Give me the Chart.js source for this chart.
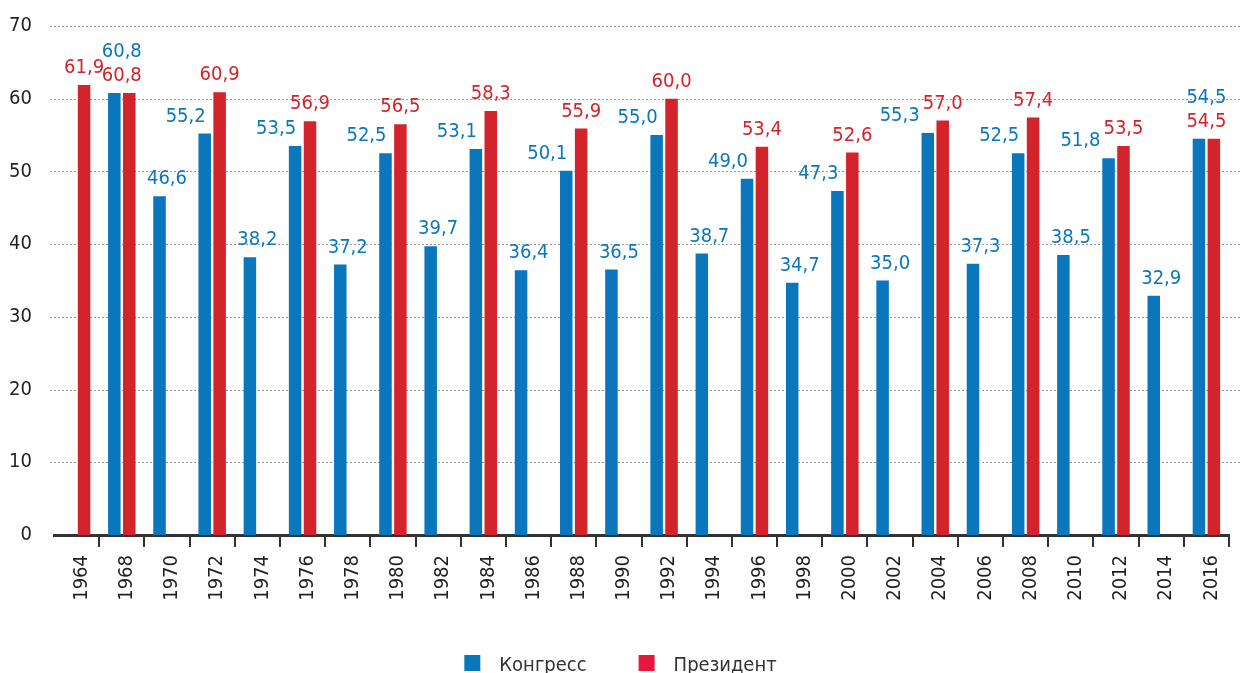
<!DOCTYPE html>
<html>
<head>
<meta charset="utf-8">
<script src="https://cdn.jsdelivr.net/npm/chart.js@4/dist/chart.umd.min.js"></script>
<style>
  html, body { margin: 0; padding: 0; background: #fff; }
  canvas { display: block; }
</style>
</head>
<body>
<canvas id="turnoutChart" width="1241" height="673"></canvas>
<script>
// years on the x axis (1966 is not shown in the source)
const years = ['1964', '1968', '1970', '1972', '1974', '1976', '1978', '1980', '1982', '1984', '1986', '1988', '1990',
  '1992', '1994', '1996', '1998', '2000', '2002', '2004', '2006', '2008', '2010', '2012', '2014', '2016'];

// turnout, %
const congress = [null, 60.8, 46.6, 55.2, 38.2, 53.5, 37.2, 52.5, 39.7, 53.1, 36.4, 50.1, 36.5,
  55.0, 38.7, 49.0, 34.7, 47.3, 35.0, 55.3, 37.3, 52.5, 38.5, 51.8, 32.9, 54.5];
const president = [61.9, 60.8, null, 60.9, null, 56.9, null, 56.5, null, 58.3, null, 55.9, null,
  60.0, null, 53.4, null, 52.6, null, 57.0, null, 57.4, null, 53.5, null, 54.5];

const yTicks = [0, 10, 20, 30, 40, 50, 60, 70];

const FONT = "'DejaVu Sans Condensed', 'Liberation Sans Narrow', 'Arial Narrow', sans-serif";
const BLUE = '#0a77bd';
const RED = '#d3232b';
const LEGEND_RED = '#e5173f';

function fmt(v) {
    return v.toFixed(1).replace('.', ',');
}

// dotted horizontal grid, a bit wider than the plot area
const gridPlugin = {
    id: 'dottedGrid',
    beforeDatasetsDraw(chart) {
        const ctx = chart.ctx;
        const y = chart.scales.y;
        ctx.save();
        ctx.strokeStyle = '#9a9a9a';
        ctx.lineWidth = 1;
        ctx.setLineDash([2, 2]);
        yTicks.forEach(function(t) {
            if (t === 0) return;
            const py = Math.round(y.getPixelForValue(t)) + 0.5;
            ctx.beginPath();
            ctx.moveTo(chart.chartArea.left - 4, py);
            ctx.lineTo(chart.width, py);
            ctx.stroke();
        });
        ctx.restore();
    }
};

// value labels above bars
const labelPlugin = {
    id: 'valueLabels',
    afterDatasetsDraw(chart) {
        const ctx = chart.ctx;
        const m0 = chart.getDatasetMeta(0);
        const m1 = chart.getDatasetMeta(1);
        const xs = chart.scales.x;
        const off = 12;
        ctx.save();
        ctx.font = '20px ' + FONT;
        ctx.textBaseline = 'alphabetic';
        for (let i = 0; i < years.length; i++) {
            const c = congress[i];
            const p = president[i];
            const xc = xs.getPixelForValue(i);
            let redLeft = null, redBase = null;
            if (p != null) {
                const bar = m1.data[i];
                const tx = c === p ? xc : bar.x;
                ctx.fillStyle = RED;
                ctx.textAlign = 'center';
                ctx.fillText(fmt(p), tx, bar.y - off);
                redLeft = tx - ctx.measureText(fmt(p)).width / 2;
                redBase = bar.y - off;
            }
            if (c != null) {
                const bar = m0.data[i];
                ctx.fillStyle = BLUE;
                if (p == null) {
                    ctx.textAlign = 'center';
                    ctx.fillText(fmt(c), xc, bar.y - off);
                } else if (c === p) {
                    ctx.textAlign = 'center';
                    ctx.fillText(fmt(c), xc, redBase - 24);
                } else {
                    let right = bar.x + 1;
                    const base = bar.y - off;
                    // keep clear of the red label when they sit at the same height
                    if (Math.abs(base - redBase) < 18) right = Math.min(right, redLeft - 3);
                    ctx.textAlign = 'right';
                    ctx.fillText(fmt(c), right, base);
                }
            }
        }
        ctx.restore();
    }
};

// legend drawn at the bottom centre
const legendPlugin = {
    id: 'bottomLegend',
    afterDraw(chart) {
        const ctx = chart.ctx;
        const items = [
            { text: chart.data.datasets[0].label, color: BLUE },
            { text: chart.data.datasets[1].label, color: LEGEND_RED }
        ];
        ctx.save();
        ctx.font = '20px ' + FONT;
        ctx.textBaseline = 'alphabetic';
        ctx.textAlign = 'left';
        const box = 16, gapText = 19, gapItem = 52;
        let total = 0;
        items.forEach(function(it, k) {
            it.w = ctx.measureText(it.text).width;
            total += box + gapText + it.w + (k > 0 ? gapItem : 0);
        });
        let x = chart.width / 2 - total / 2;
        const yBox = chart.height - 18;
        items.forEach(function(it, k) {
            if (k > 0) x += gapItem;
            ctx.fillStyle = it.color;
            ctx.fillRect(x, yBox, box, box);
            x += box + gapText;
            ctx.fillStyle = '#333';
            ctx.fillText(it.text, x, chart.height - 2);
            x += it.w;
        });
        ctx.restore();
    }
};

const ctx = document.getElementById('turnoutChart').getContext('2d');
const turnoutChart = new Chart(ctx, {
    type: 'bar',
    data: {
        labels: years,
        datasets: [{
            label: 'Конгресс',
            data: congress,
            backgroundColor: BLUE,
            categoryPercentage: 0.66,
            barPercentage: 0.84
        },
        {
            label: 'Президент',
            data: president,
            backgroundColor: RED,
            categoryPercentage: 0.66,
            barPercentage: 0.84
        }]
    },
    options: {
        responsive: false,
        animation: false,
        layout: {
            padding: { top: 19, left: 10, right: 12, bottom: 38 }
        },
        plugins: {
            legend: { display: false },
            tooltip: { enabled: false }
        },
        scales: {
            x: {
                offset: true,
                afterFit: function(s) { s.height = 100; },
                grid: {
                    display: true,
                    offset: true,
                    drawOnChartArea: false,
                    drawTicks: true,
                    tickLength: 12,
                    lineWidth: 2,
                    color: function(c) { return c.index === 0 ? 'rgba(0,0,0,0)' : '#333'; }
                },
                border: { display: true, color: '#333', width: 3 },
                ticks: {
                    autoSkip: false,
                    minRotation: 90,
                    maxRotation: 90,
                    padding: 8,
                    labelOffset: 5,
                    color: '#231f20',
                    font: { family: FONT, size: 20 }
                }
            },
            y: {
                min: 0,
                max: 70,
                afterFit: function(s) { s.width = 44; },
                afterBuildTicks: function(s) { s.ticks = yTicks.map(v => ({ value: v })); },
                grid: { display: false, tickLength: 8 },
                border: { display: false },
                ticks: {
                    padding: 14,
                    color: '#231f20',
                    font: { family: FONT, size: 20 }
                }
            }
        }
    },
    plugins: [gridPlugin, labelPlugin, legendPlugin]
});
</script>
</body>
</html>
